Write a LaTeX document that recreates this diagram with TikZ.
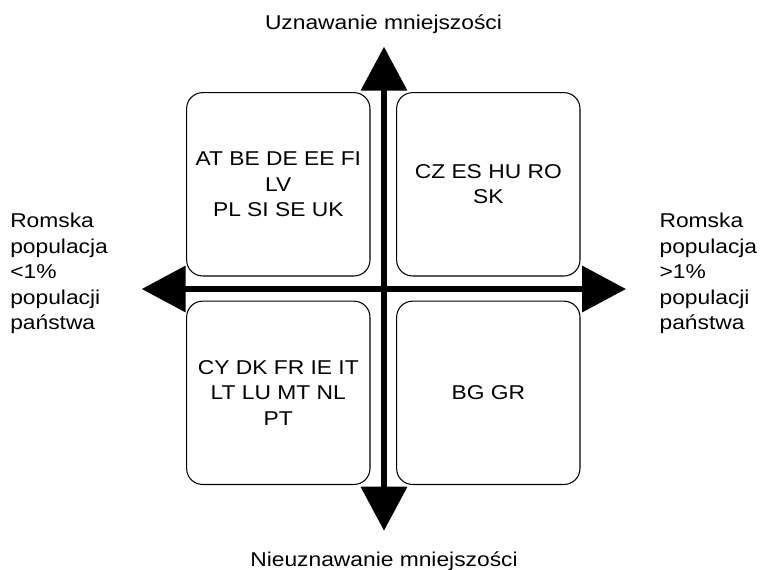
\documentclass[tikz,border=0pt]{standalone}
\usepackage{fontspec}
\setmainfont{Liberation Sans}[FakeStretch=1.14]
\usetikzlibrary{arrows.meta,positioning}
\tikzset{
  quadrant/.style={draw, rounded corners=12pt, line width=0.8pt,
    minimum width=137.5pt, minimum height=137.5pt, inner sep=0pt,
    align=center, font=\fontsize{15}{19.1}\selectfont},
  label text/.style={inner sep=0pt, font=\fontsize{15}{19.1}\selectfont},
  axis/.style={line width=4.5pt,
    {Triangle[length=33pt,width=34pt]}-{Triangle[length=33pt,width=34pt]}},
}
\begin{document}
\begin{tikzpicture}[x=0.75pt,y=-0.75pt]
  \useasboundingbox (0,0) rectangle (760,569);
  % axis ends
  \coordinate (top) at (384,46.7);
  \coordinate (bottom) at (384,530.7);
  \coordinate (left) at (141.7,289);
  \coordinate (right) at (626,289);
  % quadrants
  \node[quadrant] (tl) at (278.3,184.3) {AT BE DE EE FI\\LV\\PL SI SE UK};
  \node[quadrant] (tr) at (488.3,184.3) {CZ ES HU RO\\SK};
  \node[quadrant] (bl) at (278.3,392.8) {CY DK FR IE IT\\LT LU MT NL\\PT};
  \node[quadrant] (br) at (488.3,392.8) {BG GR};
  % axes
  \draw[axis] (top) -- (bottom);
  \draw[axis] (left) -- (right);
  % captions
  \node[label text, anchor=base] (recog) at (383.5,29.3) {Uznawanie mniejszości};
  \node[label text, anchor=base] (norecog) at (384,566) {Nieuznawanie mniejszości};
  \node[label text, anchor=north west, align=left] (small) at (10,213)
    {Romska\\populacja\\<1\%\\populacji\\państwa};
  \node[label text, anchor=north west, align=left] (large) at (659.3,213)
    {Romska\\populacja\\>1\%\\populacji\\państwa};
\end{tikzpicture}
\end{document}
